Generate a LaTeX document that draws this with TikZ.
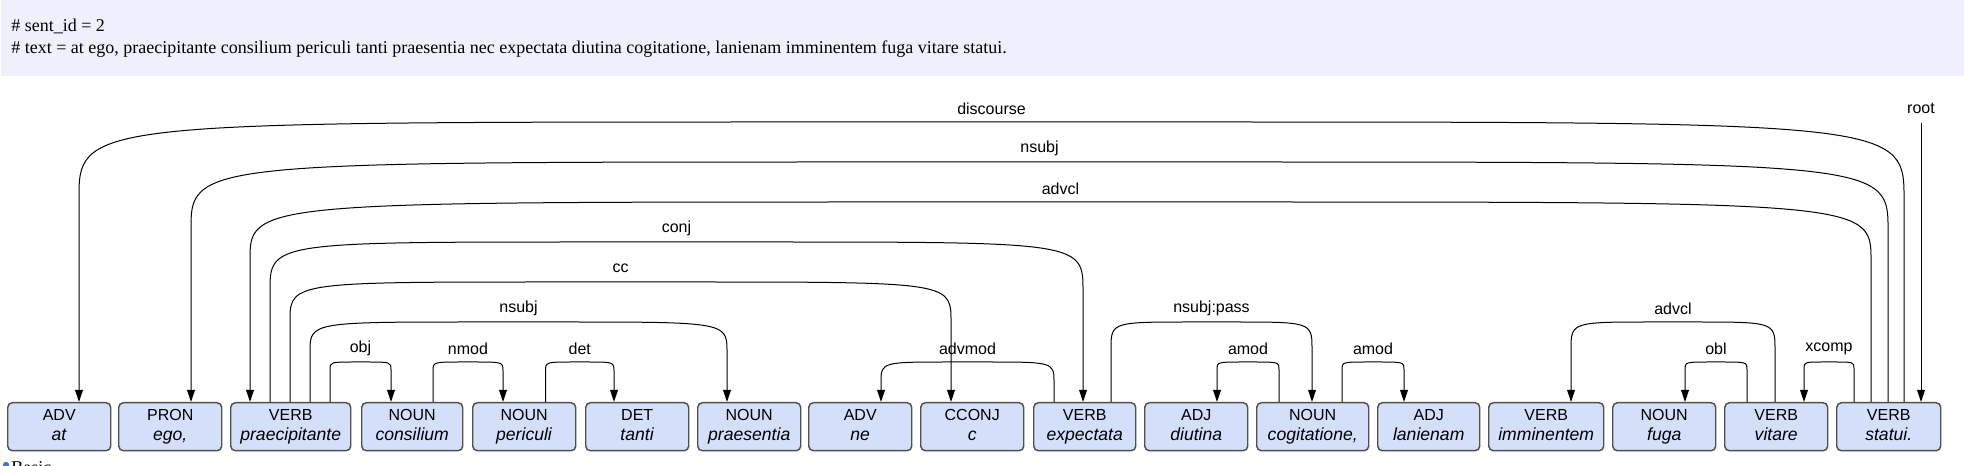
\documentclass[tikz,border=0pt]{standalone}
\usepackage{fontspec}
\setmainfont{Liberation Serif}
\newfontfamily\arialf{Liberation Sans}
\usetikzlibrary{calc,arrows.meta}
\definecolor{hdrbg}{RGB}{240,240,252}
\definecolor{tokfill}{RGB}{212,223,250}
\definecolor{tokborder}{RGB}{80,80,80}
\definecolor{bulletblue}{RGB}{60,120,210}
\newcommand\tagsize{\fontsize{12}{15}\selectfont}
\newcommand\wordsize{\fontsize{13.2}{15}\selectfont}
\tikzset{
 tok/.style={draw=tokborder, line width=1.1pt, fill=tokfill, rounded corners=3.5pt,
   minimum height=36pt, inner sep=0pt, anchor=north west, align=center,
   font=\arialf\fontsize{12}{15}\selectfont},
 arcline/.style={draw=black, line width=0.75pt, -{Triangle[length=9pt,width=5.8pt]}},
 lbl/.style={font=\arialf\fontsize{12}{14}\selectfont, inner sep=0pt},
 hdrtext/.style={anchor=base west, font=\fontsize{13.5}{15}\selectfont, inner sep=0pt},
}
\newcommand\tok[5]{\node[tok, minimum width=#3*0.75pt] (#1) at (#2,402) {{\tagsize\strut #4}\\{\wordsize\strut\textit{#5}}};}
\newcommand\deparc[6]{%
 \draw[arcline] let \p1=($(#1.north west)+(#2,0)$), \p2=($(#3.north west)+(#4,0)$),
   \n1={(\x2-\x1)/2}, \n2={0.8*\n1}, \n3={0.035*\n2}, \n4={30pt*#5},
   \n5={min(0.25*abs(\n1),0.22*\n4+7.5pt)} in
   (\x1,\y1) -- (\x1,\y1+\n4-\n5) .. controls (\x1,\y1+\n4) and (\x1+\n3,\y1+\n4) .. (\x1+\n2,\y1+\n4)
   -- (\x2-\n2,\y1+\n4) .. controls (\x2-\n3,\y1+\n4) and (\x2,\y1+\n4) .. (\x2,\y1+\n4-\n5) -- (\x2,\y2);
 \path let \p1=($(#1.north west)+(#2,0)$), \p2=($(#3.north west)+(#4,0)$), \n4={30pt*#5} in
   node[lbl] at ({(\x1+\x2)/2},{\y1+\n4+10.125pt}) {#6};
}
\begin{document}
\begin{tikzpicture}[x=0.75pt,y=-0.75pt]
\useasboundingbox (0,0) rectangle (1964,466);
\clip (0,0) rectangle (1964,466);
% header
\fill[hdrbg] (1,0) rectangle (1964,76);
\node[hdrtext] (sentid) at (11,32) {\# sent\_id = 2};
\node[hdrtext] (senttext) at (11,54) {\# text = at ego, praecipitante consilium periculi tanti praesentia nec expectata diutina cogitatione, lanienam imminentem fuga vitare statui.};
% tokens
\tok{t1}{7}{103}{ADV}{at}
\tok{t2}{118}{103}{PRON}{ego,}
\tok{t3}{230}{120}{VERB}{praecipitante}
\tok{t4}{361}{101}{NOUN}{consilium}
\tok{t5}{472}{103}{NOUN}{periculi}
\tok{t6}{585}{103}{DET}{tanti}
\tok{t7}{697}{103}{NOUN}{praesentia}
\tok{t8}{808}{103}{ADV}{ne}
\tok{t9}{920}{103}{CCONJ}{c}
\tok{t10}{1033}{102}{VERB}{expectata}
\tok{t11}{1144}{103}{ADJ}{diutina}
\tok{t12}{1256}{112}{NOUN}{cogitatione,}
\tok{t13}{1377}{102}{ADJ}{lanienam}
\tok{t14}{1488}{115}{VERB}{imminentem}
\tok{t15}{1612}{103}{NOUN}{fuga}
\tok{t16}{1724}{103}{VERB}{vitare}
\tok{t17}{1836}{104}{VERB}{statui.}
% arcs: head node, offset, dep node, offset, level, label
\deparc{t17}{68}{t1}{72}{7}{discourse}
\deparc{t17}{52}{t2}{73}{6}{nsubj}
\deparc{t17}{35}{t3}{20}{5}{advcl}
\deparc{t3}{40}{t10}{50}{4}{conj}
\deparc{t3}{60}{t9}{31}{3}{cc}
\deparc{t3}{80}{t7}{30}{2}{nsubj}
\deparc{t3}{100}{t4}{30}{1}{obj}
\deparc{t4}{72}{t5}{31}{1}{nmod}
\deparc{t5}{73.5}{t6}{29}{1}{det}
\deparc{t10}{21}{t8}{73}{1}{advmod}
\deparc{t10}{78}{t12}{56}{2}{nsubj:pass}
\deparc{t12}{23}{t11}{73}{1}{amod}
\deparc{t12}{86}{t13}{27}{1}{amod}
\deparc{t16}{51}{t14}{83}{2}{advcl}
\deparc{t16}{23}{t15}{73}{1}{obl}
\deparc{t17}{18}{t16}{80}{1}{xcomp}
% root
\coordinate (roottop) at (1921,123);
\draw[arcline] (roottop) -- ($(t17.north west)+(85,0)$);
\node[lbl] (rootlbl) at (1921,108) {root};
% cut-off legend below
\fill[bulletblue] (6,465) circle (2.4pt);
\node[anchor=base west, font=\fontsize{13.5}{15}\selectfont, inner sep=0pt] (basic) at (11,474) {Basic};
\end{tikzpicture}
\end{document}
